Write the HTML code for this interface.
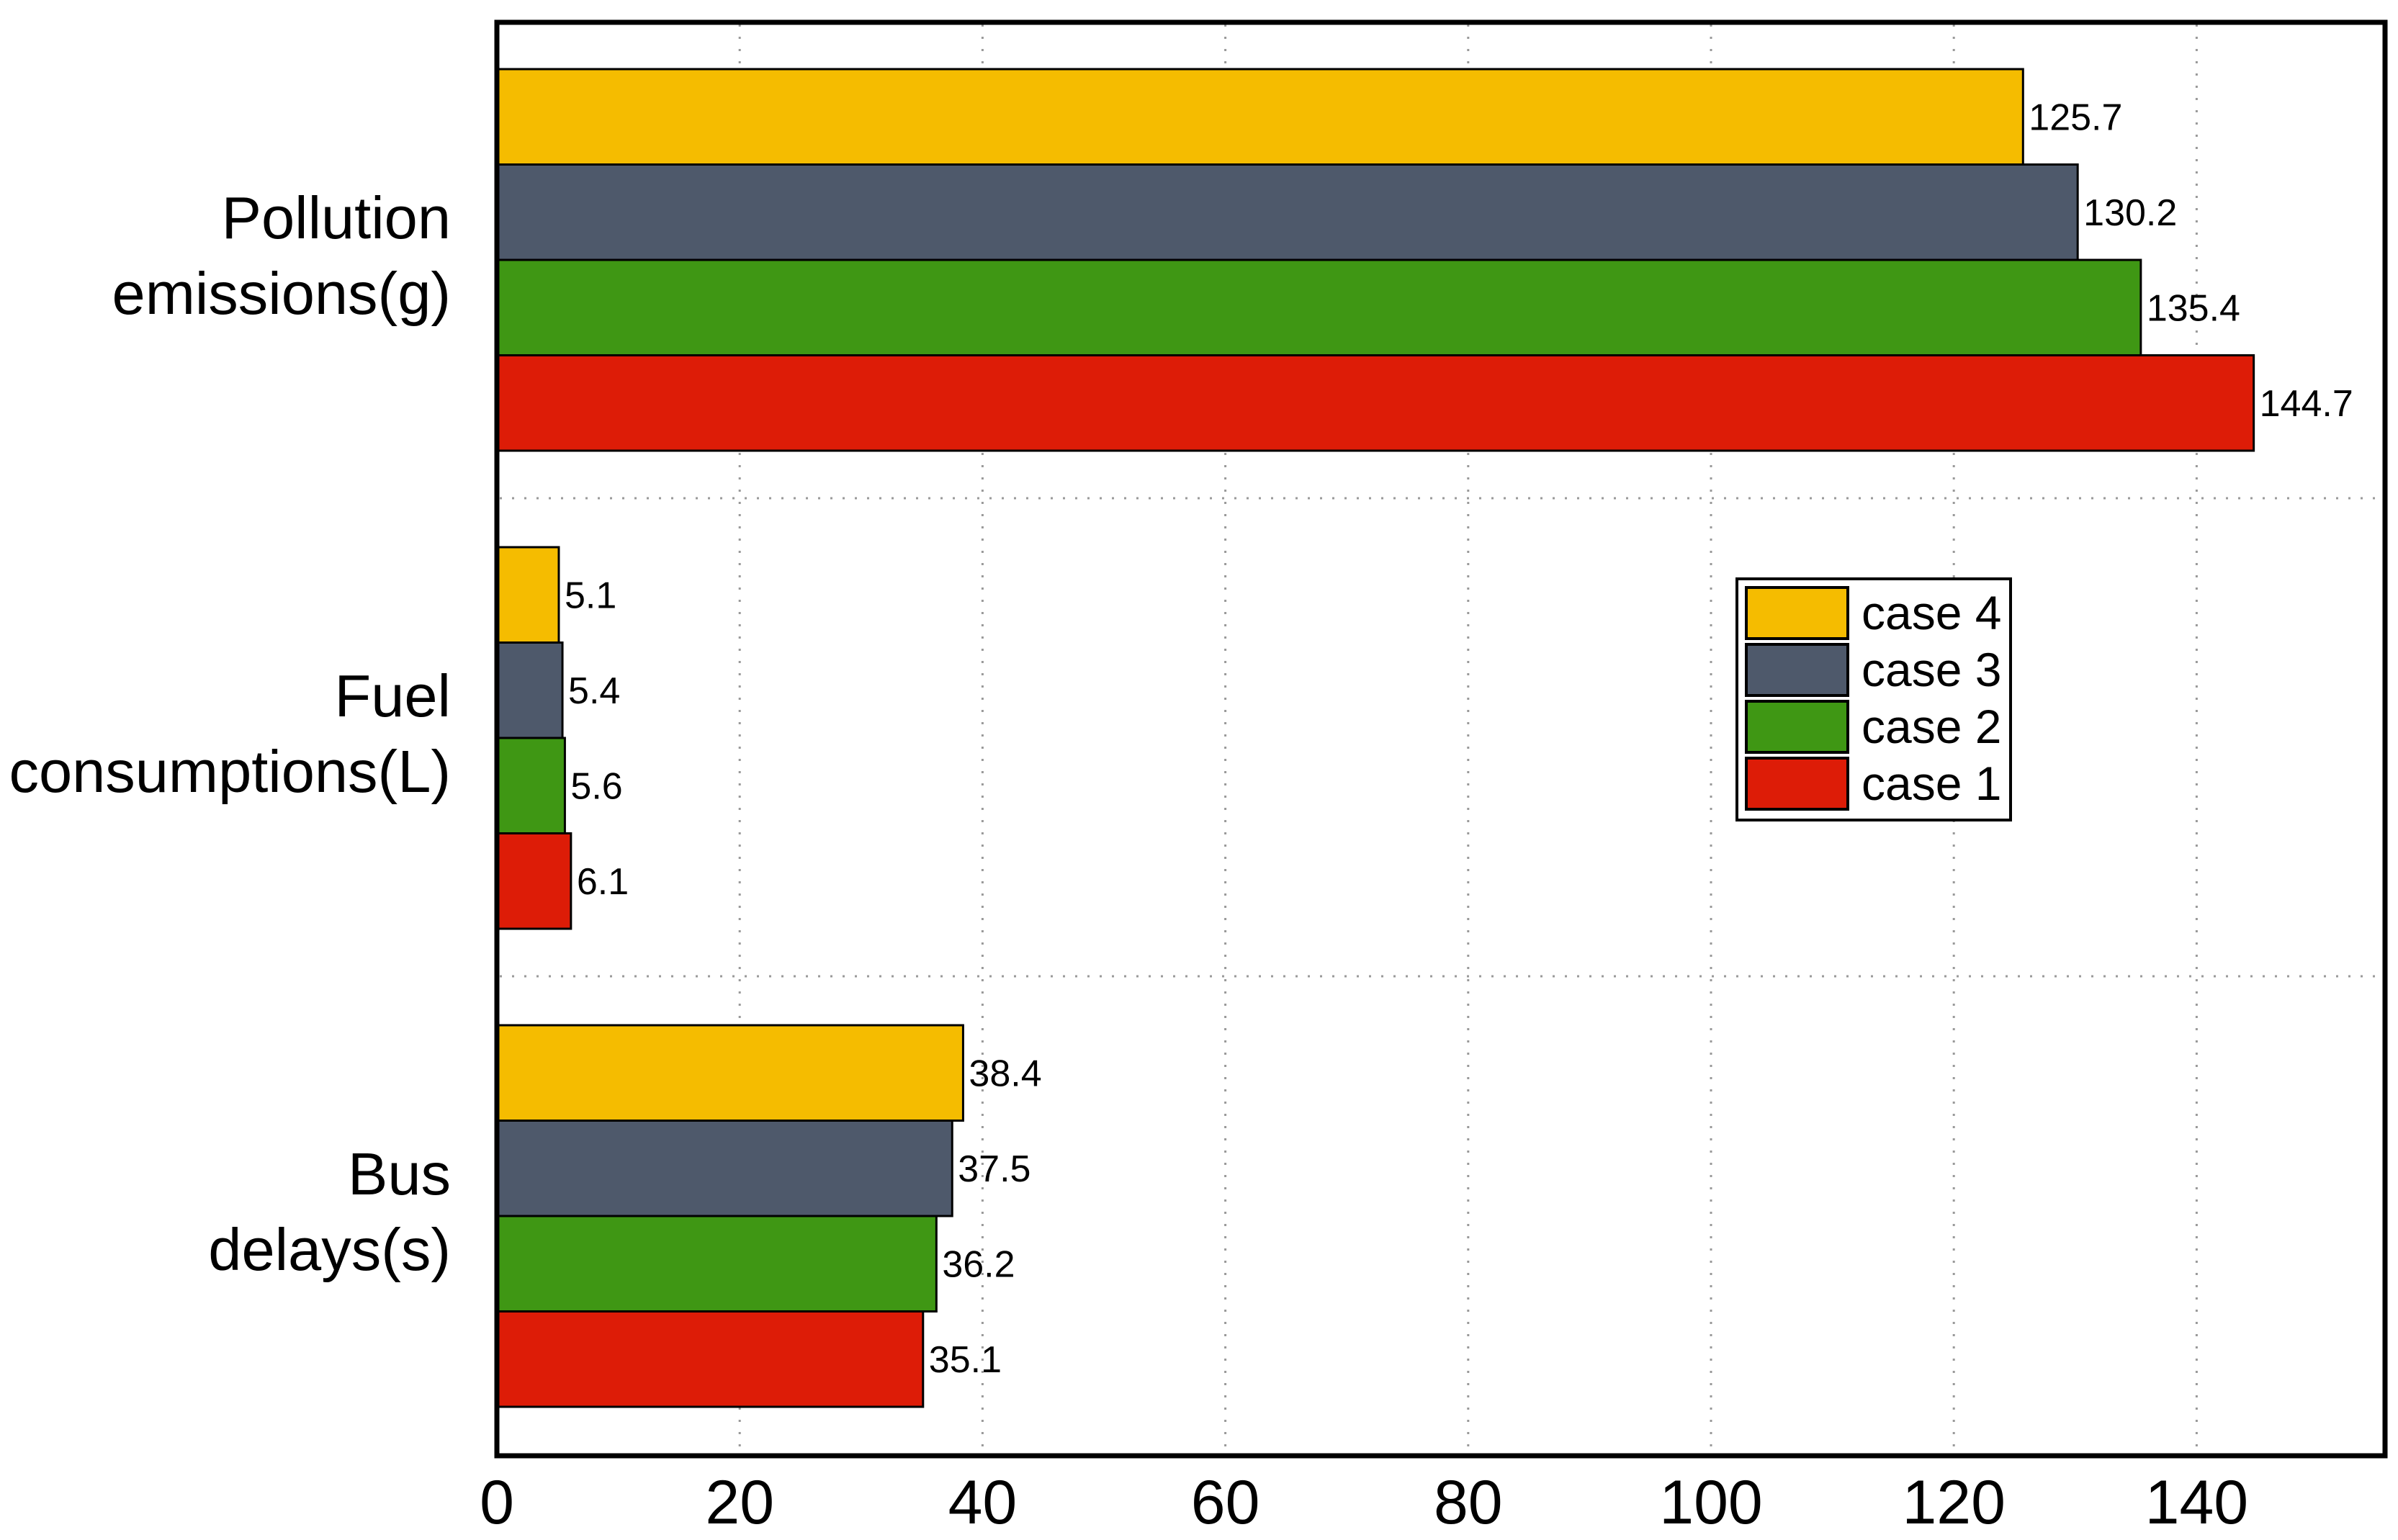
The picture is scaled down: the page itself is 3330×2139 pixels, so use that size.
<!DOCTYPE html>
<html><head><meta charset="utf-8"><style>
html,body{margin:0;padding:0;background:#fff;}
svg{display:block;font-family:"Liberation Sans",Arial,sans-serif;}
</style></head><body>
<svg id="chart" width="3330" height="2139" viewBox="0 0 3330 2139">
<g id="grid"></g>
<g id="bars"></g>
<g id="labels"></g>
<rect x="690" y="31" width="2622" height="1991" fill="none" stroke="#000" stroke-width="7"/>
<g id="ticks"></g>
<g id="cats"></g>
<g>
<rect x="2412" y="804" width="380" height="335" fill="#fff" stroke="#000" stroke-width="4"/>
<g id="legend"></g>
</g>
</svg>
<script>
const categories = ["Pollution emissions(g)", "Fuel consumptions(L)", "Bus delays(s)"];
const catLines = [["Pollution ", "emissions(g)"], ["Fuel ", "consumptions(L)"], ["Bus", "delays(s)"]];
const seriesNames = ["case 4", "case 3", "case 2", "case 1"];
const seriesColors = ["#F5BC00", "#4E596B", "#3F9714", "#DD1C07"];
const case4 = [125.7, 5.1, 38.4];
const case3 = [130.2, 5.4, 37.5];
const case2 = [135.4, 5.6, 36.2];
const case1 = [144.7, 6.1, 35.1];
const xTicks = [0, 20, 40, 60, 80, 100, 120, 140];

const series = [case4, case3, case2, case1];
const NS = "http://www.w3.org/2000/svg";
const X0 = 690, PX = 16.86;
const xs = v => X0 + v * PX;
const GROUP_TOP = 28, GROUP_H = 664, BAR_H = 132.5, PAD = 68;
const gy = i => GROUP_TOP + i * GROUP_H;
function mk(tag, attrs, parent){const e=document.createElementNS(NS,tag);for(const k in attrs)e.setAttribute(k,attrs[k]);parent.appendChild(e);return e;}
const grid=document.getElementById('grid'), bars=document.getElementById('bars'), labels=document.getElementById('labels'), ticks=document.getElementById('ticks'), cats=document.getElementById('cats'), legend=document.getElementById('legend');
xTicks.forEach(t=>{
  if(t>0){const l=mk('line',{x1:xs(t),x2:xs(t),y1:34,y2:2019,stroke:'#999','stroke-width':3,'stroke-dasharray':'3 14'},grid);
  
  }
  const tx=mk('text',{x:xs(t),y:2116,'font-size':86,'text-anchor':'middle'},ticks);
  tx.textContent=t;
  
  
});
for(let i=1;i<categories.length;i++){
  const l=mk('line',{x1:694,x2:3308,y1:gy(i),y2:gy(i),stroke:'#999','stroke-width':3,'stroke-dasharray':'3 14'},grid);
  
  
}
categories.forEach((c,i)=>{
  series.forEach((s,j)=>{
    const y=gy(i)+PAD+j*BAR_H;
    const r=mk('rect',{x:X0,y:y,width:s[i]*PX,height:BAR_H,fill:seriesColors[j],stroke:'#000','stroke-width':3},bars);
    
    
    const t=mk('text',{x:xs(s[i])+8,y:y+BAR_H/2+18,'font-size':52},labels);
    t.textContent=s[i].toFixed(1);
    
    
  });
  const cy=gy(i)+GROUP_H/2;
  catLines[i].forEach((ln,k)=>{
    const t=mk('text',{x:626,y:cy+(k===0?-29:76),'font-size':83,'text-anchor':'end','xml:space':'preserve'},cats);
    t.textContent=ln;
    
    
  });
});
seriesNames.forEach((n,j)=>{
  const y=816+j*79;
  const r=mk('rect',{x:2425,y:y,width:141,height:71,fill:seriesColors[j],stroke:'#000','stroke-width':4},legend);
  
  
  const t=mk('text',{x:2585,y:y+58,'font-size':66},legend);
  t.textContent=n;
  
  
});
</script>
</body></html>
